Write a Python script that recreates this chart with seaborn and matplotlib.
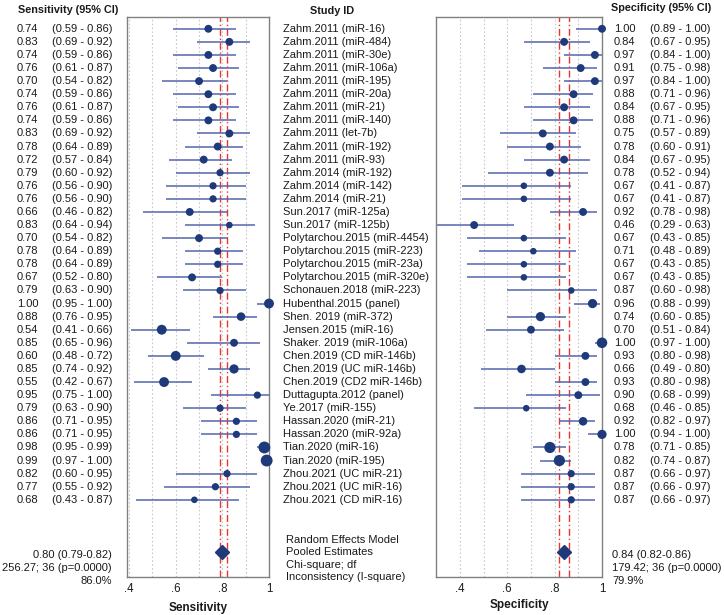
import numpy as np
import pandas as pd
import matplotlib
matplotlib.use("Agg")
import matplotlib.pyplot as plt
import seaborn as sns
from matplotlib import transforms

# --- data -------------------------------------------------------------------
studies = [
    "Zahm.2011 (miR-16)", "Zahm.2011 (miR-484)", "Zahm.2011 (miR-30e)",
    "Zahm.2011 (miR-106a)", "Zahm.2011 (miR-195)", "Zahm.2011 (miR-20a)",
    "Zahm.2011 (miR-21)", "Zahm.2011 (miR-140)", "Zahm.2011 (let-7b)",
    "Zahm.2011 (miR-192)", "Zahm.2011 (miR-93)", "Zahm.2014 (miR-192)",
    "Zahm.2014 (miR-142)", "Zahm.2014 (miR-21)", "Sun.2017 (miR-125a)",
    "Sun.2017 (miR-125b)", "Polytarchou.2015 (miR-4454)", "Polytarchou.2015 (miR-223)",
    "Polytarchou.2015 (miR-23a)", "Polytarchou.2015 (miR-320e)", "Schonauen.2018 (miR-223)",
    "Hubenthal.2015 (panel)", "Shen. 2019 (miR-372)", "Jensen.2015 (miR-16)",
    "Shaker. 2019 (miR-106a)", "Chen.2019 (CD miR-146b)", "Chen.2019 (UC miR-146b)",
    "Chen.2019 (CD2 miR-146b)", "Duttagupta.2012 (panel)", "Ye.2017 (miR-155)",
    "Hassan.2020 (miR-21)", "Hassan.2020 (miR-92a)", "Tian.2020 (miR-16)",
    "Tian.2020 (miR-195)", "Zhou.2021 (UC miR-21)", "Zhou.2021 (UC miR-16)",
    "Zhou.2021 (CD miR-16)",
]

sens = [0.74, 0.83, 0.74, 0.76, 0.70, 0.74, 0.76, 0.74, 0.83, 0.78, 0.72, 0.79, 0.76,
        0.76, 0.66, 0.83, 0.70, 0.78, 0.78, 0.67, 0.79, 1.00, 0.88, 0.54, 0.85, 0.60,
        0.85, 0.55, 0.95, 0.79, 0.86, 0.86, 0.98, 0.99, 0.82, 0.77, 0.68]
sens_lo = [0.59, 0.69, 0.59, 0.61, 0.54, 0.59, 0.61, 0.59, 0.69, 0.64, 0.57, 0.60, 0.56,
           0.56, 0.46, 0.64, 0.54, 0.64, 0.64, 0.52, 0.63, 0.95, 0.76, 0.41, 0.65, 0.48,
           0.74, 0.42, 0.75, 0.63, 0.71, 0.71, 0.95, 0.97, 0.60, 0.55, 0.43]
sens_hi = [0.86, 0.92, 0.86, 0.87, 0.82, 0.86, 0.87, 0.86, 0.92, 0.89, 0.84, 0.92, 0.90,
           0.90, 0.82, 0.94, 0.82, 0.89, 0.89, 0.80, 0.90, 1.00, 0.95, 0.66, 0.96, 0.72,
           0.92, 0.67, 1.00, 0.90, 0.95, 0.95, 0.99, 1.00, 0.95, 0.92, 0.87]
# relative study weights (marker diameter in px)
sens_weight = [6, 6, 6, 6, 6, 6, 6, 6, 6, 6, 6, 5.5, 5.5, 5.5, 6, 5, 6, 5.5, 5.5, 6, 5.5,
               7.5, 6.5, 7.5, 6, 7.5, 7, 7.5, 5.5, 5.5, 5.5, 5.5, 9, 9, 5.5, 5.5, 5]

spec = [1.00, 0.84, 0.97, 0.91, 0.97, 0.88, 0.84, 0.88, 0.75, 0.78, 0.84, 0.78, 0.67,
        0.67, 0.92, 0.46, 0.67, 0.71, 0.67, 0.67, 0.87, 0.96, 0.74, 0.70, 1.00, 0.93,
        0.66, 0.93, 0.90, 0.68, 0.92, 1.00, 0.78, 0.82, 0.87, 0.87, 0.87]
spec_lo = [0.89, 0.67, 0.84, 0.75, 0.84, 0.71, 0.67, 0.71, 0.57, 0.60, 0.67, 0.52, 0.41,
           0.41, 0.78, 0.29, 0.43, 0.48, 0.43, 0.43, 0.60, 0.88, 0.60, 0.51, 0.97, 0.80,
           0.49, 0.80, 0.68, 0.46, 0.82, 0.94, 0.71, 0.74, 0.66, 0.66, 0.66]
spec_hi = [1.00, 0.95, 1.00, 0.98, 1.00, 0.96, 0.95, 0.96, 0.89, 0.91, 0.95, 0.94, 0.87,
           0.87, 0.98, 0.63, 0.85, 0.89, 0.85, 0.85, 0.98, 0.99, 0.85, 0.84, 1.00, 0.98,
           0.80, 0.98, 0.99, 0.85, 0.97, 1.00, 0.85, 0.87, 0.97, 0.97, 0.97]
spec_weight = [6, 6, 6, 6, 6, 6, 6, 6, 6, 6, 6, 6, 5, 5, 6, 6, 5, 5, 5, 5, 5,
               7, 7, 6, 8, 6, 6.5, 6, 6, 5, 6.5, 7, 8.5, 8.5, 5.5, 5.5, 5.5]

sens_pooled = (0.80, 0.79, 0.82)
spec_pooled = (0.84, 0.82, 0.86)
sens_stats = ["0.80 (0.79-0.82)", "256.27; 36 (p=0.0000)", "86.0%"]
spec_stats = ["0.84 (0.82-0.86)", "179.42; 36 (p=0.0000)", "79.9%"]
model_labels = ["Random Effects Model", "Pooled Estimates", "Chi-square; df",
                "Inconsistency (I-square)"]

# --- style ------------------------------------------------------------------
sns.set_theme(style="white")
plt.rcParams["font.family"] = ["Liberation Sans", "DejaVu Sans"]

NAVY = "#1e3a7b"
CI_COL = "#5566ad"
RED = "#e8362f"
GRID = "#c8c8c8"
TXT = "#1a1a1a"

W, H = 725, 615
fig = plt.figure(figsize=(W / 100, H / 100), dpi=100, facecolor="white")


def fx(px):
    return px / W


def fy(py):
    return 1 - py / H


ax_sen = fig.add_axes([fx(127), fy(577), (269 - 127) / W, (577 - 17) / H])
ax_spe = fig.add_axes([fx(436), fy(577), (602 - 436) / W, (577 - 17) / H])

POOL_ROW = 40


def draw_panel(ax, est, lo, hi, weight, pooled, xmin, label, labelpad):
    df = pd.DataFrame({"row": np.arange(len(est)), "est": est, "lo": lo,
                       "hi": hi, "w": weight})
    for gx in [0.4, 0.5, 0.6, 0.7, 0.8, 0.9]:
        ax.axvline(gx, color=GRID, lw=0.8, ls=(0, (1.5, 2)), zorder=0)
    for rx in pooled[1:]:
        ax.axvline(rx, color=RED, lw=1.0, ls=(0, (5, 2, 1, 2)), zorder=1)
    ax.hlines(df["row"], df["lo"], df["hi"], color=CI_COL, lw=1.1, zorder=2)
    sns.scatterplot(data=df, x="est", y="row", s=(df["w"] * 0.95) ** 2,
                    color=NAVY, edgecolor="none", linewidth=0, ax=ax,
                    zorder=3, legend=False, clip_on=False)
    ax.plot(pooled[0], POOL_ROW, marker="D", ms=7.5, color=NAVY, zorder=4)
    ax.set_xlim(xmin, 1.0)
    ax.set_ylim(41.9, -0.9)
    ax.set_xticks([0.4, 0.6, 0.8, 1.0])
    ax.set_xticklabels([".4", ".6", ".8", "1"])
    ax.set_yticks([])
    ax.set_ylabel("")
    ax.set_xlabel(label, fontweight="bold", fontsize=8.5, color=TXT, labelpad=labelpad)
    ax.tick_params(axis="x", length=0, pad=4, labelsize=8.3, colors=TXT)
    for sp in ax.spines.values():
        sp.set_color("#808080")
        sp.set_linewidth(1.0)


draw_panel(ax_sen, sens, sens_lo, sens_hi, sens_weight, sens_pooled, 0.391, "Sensitivity", 5)
draw_panel(ax_spe, spec, spec_lo, spec_hi, spec_weight, spec_pooled, 0.299, "Specificity", 3)

# --- row texts --------------------------------------------------------------
trans = transforms.blended_transform_factory(fig.transFigure, ax_sen.transData)
for i, name in enumerate(studies):
    kw = dict(transform=trans, va="center", fontsize=8, color=TXT)
    fig.text(fx(17), i, f"{sens[i]:.2f}", **kw)
    fig.text(fx(52), i, f"({sens_lo[i]:.2f} - {sens_hi[i]:.2f})", **kw)
    fig.text(fx(283), i, name, **kw)
    fig.text(fx(614), i, f"{spec[i]:.2f}", **kw)
    fig.text(fx(650), i, f"({spec_lo[i]:.2f} - {spec_hi[i]:.2f})", **kw)

# headers
hkw = dict(fontsize=7.8, fontweight="bold", color=TXT, va="center")
fig.text(fx(18), fy(10), "Sensitivity (95% CI)", **hkw)
fig.text(fx(310), fy(11), "Study ID", **hkw)
fig.text(fx(611), fy(8), "Specificity (95% CI)", **hkw)

# pooled statistics
for k, yy in enumerate([555, 568, 581]):
    fig.text(fx(112), fy(yy), sens_stats[k], ha="right", va="center", fontsize=8, color=TXT)
    fig.text(fx(612), fy(yy), spec_stats[k], ha="left", va="center", fontsize=8, color=TXT)
for k, yy in enumerate([540, 552, 565, 577]):
    fig.text(fx(286), fy(yy), model_labels[k], ha="left", va="center", fontsize=8, color=TXT)

fig.savefig("out.png", dpi=100, facecolor="white")
